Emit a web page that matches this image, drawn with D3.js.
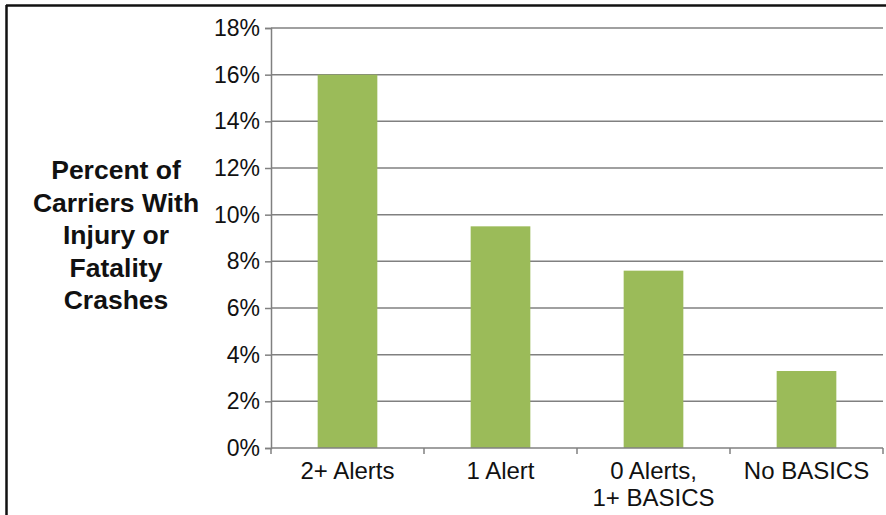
<!DOCTYPE html>
<html>
<head>
<meta charset="utf-8">
<script src="https://cdn.jsdelivr.net/npm/d3@7"></script>
<style>
  body { margin: 0; background: #fff; }
  svg { display: block; font-family: "Liberation Sans", Arial, sans-serif; }
</style>
</head>
<body>
<div id="chart"></div>
<script>
/* DATA */
const categories = [["2+ Alerts"], ["1 Alert"], ["0 Alerts,", "1+ BASICS"], ["No BASICS"]];
const values = [16, 9.5, 7.6, 3.3];
const yTicks = [0, 2, 4, 6, 8, 10, 12, 14, 16, 18];
const titleLines = ["Percent of", "Carriers With", "Injury or", "Fatality", "Crashes"];

/* CONSTANTS */
const width = 886,
  height = 515,
  margin = { top: 28, bottom: 67, left: 271, right: 3 };

const svg = d3.select("#chart")
  .append("svg")
  .attr("width", width)
  .attr("height", height);

// frame lines (top and left only)
svg.append("line")
  .attr("x1", 6).attr("x2", width)
  .attr("y1", 5.5).attr("y2", 5.5)
  .attr("stroke", "#111").attr("stroke-width", 2.5);
svg.append("line")
  .attr("x1", 6.5).attr("x2", 6.5)
  .attr("y1", 5).attr("y2", height)
  .attr("stroke", "#111").attr("stroke-width", 2.5);

// + SCALES
const labels = categories.map(d => d.join(" "));
const xScale = d3.scaleBand()
  .domain(labels)
  .range([margin.left, width - margin.right])
  .paddingInner(0.61)
  .paddingOuter(0.305);

const yScale = d3.scaleLinear()
  .domain([0, 18])
  .range([height - margin.bottom, margin.top]);

// gridlines
svg.append("g")
  .selectAll("line")
  .data(yTicks.filter(d => d > 0))
  .join("line")
  .attr("x1", margin.left)
  .attr("x2", width - margin.right)
  .attr("y1", d => yScale(d))
  .attr("y2", d => yScale(d))
  .attr("stroke", "#808080")
  .attr("stroke-width", 1.5);

// bars
svg.append("g")
  .selectAll("rect")
  .data(values)
  .join("rect")
  .attr("x", (d, i) => xScale(labels[i]))
  .attr("width", xScale.bandwidth())
  .attr("y", d => yScale(d))
  .attr("height", d => yScale(0) - yScale(d))
  .attr("fill", "#9BBB59");

// + AXES
const yAxis = d3.axisLeft(yScale)
  .tickValues(yTicks)
  .tickFormat(d => d + "%")
  .tickSize(6)
  .tickPadding(5);

const yAxisGroup = svg.append("g")
  .attr("transform", `translate(${margin.left}, 0)`)
  .call(yAxis);
yAxisGroup.select(".domain").attr("stroke", "#808080").attr("stroke-width", 1.5);
yAxisGroup.selectAll(".tick line").attr("stroke", "#808080").attr("stroke-width", 1.5);
yAxisGroup.selectAll(".tick text")
  .attr("font-size", 23)
  .attr("fill", "#111")
  .attr("font-family", "Liberation Sans, Arial, sans-serif");

// x axis: boundary ticks between categories
const step = xScale.step();
const xEdges = d3.range(labels.length + 1).map(i => margin.left + i * step);
const xAxisGroup = svg.append("g");
xAxisGroup.append("line")
  .attr("x1", margin.left).attr("x2", width - margin.right)
  .attr("y1", yScale(0)).attr("y2", yScale(0))
  .attr("stroke", "#808080").attr("stroke-width", 1.5);
xAxisGroup.selectAll(".xtick")
  .data(xEdges)
  .join("line")
  .attr("class", "xtick")
  .attr("x1", d => d).attr("x2", d => d)
  .attr("y1", yScale(0)).attr("y2", yScale(0) + 6)
  .attr("stroke", "#808080").attr("stroke-width", 1.5);

xAxisGroup.selectAll(".xlabel")
  .data(categories)
  .join("text")
  .attr("class", "xlabel")
  .attr("text-anchor", "middle")
  .attr("font-size", 24)
  .attr("fill", "#111")
  .attr("x", (d, i) => xScale(labels[i]) + xScale.bandwidth() / 2)
  .attr("y", yScale(0) + 31)
  .selectAll("tspan")
  .data(d => d)
  .join("tspan")
  .attr("x", function () { return d3.select(this.parentNode).attr("x"); })
  .attr("dy", (d, i) => i === 0 ? 0 : 27)
  .text(d => d);

// y title
svg.append("text")
  .attr("text-anchor", "middle")
  .attr("font-size", 26.5)
  .attr("font-weight", "bold")
  .attr("fill", "#111")
  .selectAll("tspan")
  .data(titleLines)
  .join("tspan")
  .attr("x", 116)
  .attr("y", (d, i) => 179 + i * 32.5)
  .text(d => d);
</script>
</body>
</html>
